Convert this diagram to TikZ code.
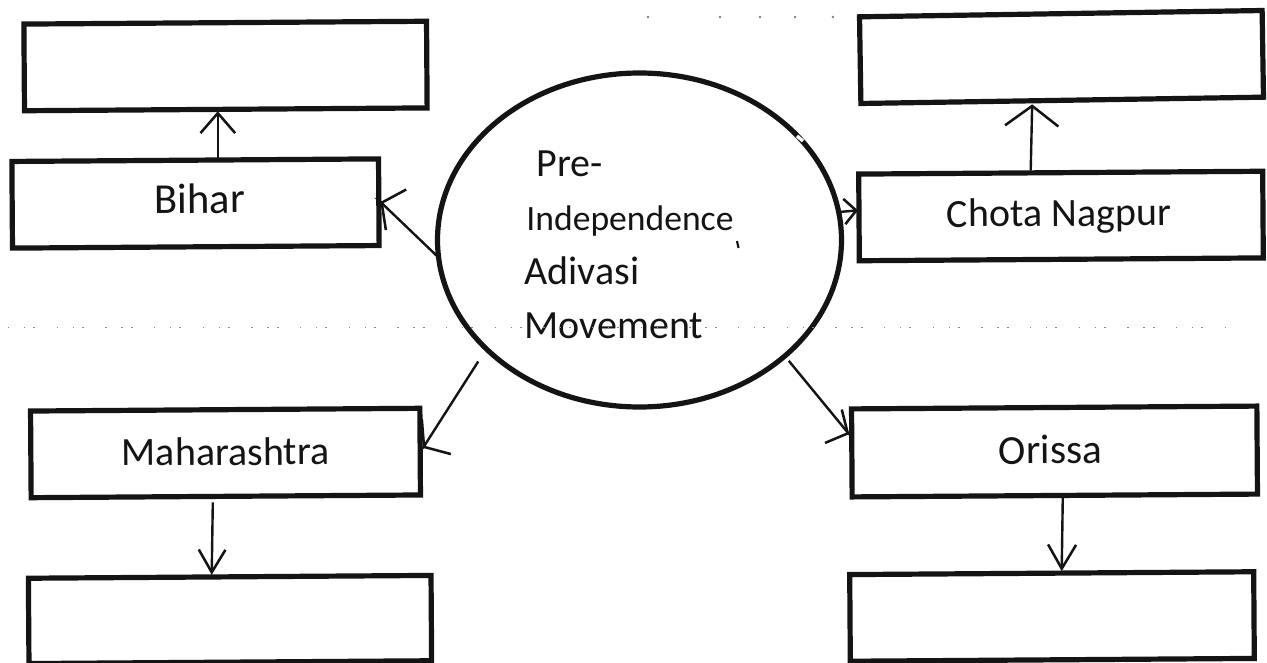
\documentclass[tikz,border=0pt]{standalone}
\usepackage{fontspec}
\setmainfont{Carlito}
\usetikzlibrary{arrows.meta,shapes.geometric}
\definecolor{ink}{HTML}{141414}
\tikzset{
  x=0.75pt,y=-0.75pt,
  box/.style={draw=ink,line width=3.9pt,fill=white,rectangle,inner sep=0pt,outer sep=0pt,line join=miter,rotate=0.4,
    font=\fontsize{30pt}{34pt}\selectfont,text=ink,text height=18.4pt,text depth=0pt},
  hub/.style={draw=ink,line width=3.9pt,fill=white,ellipse,inner sep=0pt,outer sep=0pt,
    minimum width=303pt,minimum height=250.5pt,text=ink},
  conn/.style={draw=ink,line width=1.8pt},
  barbhead/.style n args={2}{-{Straight Barb[length=#1pt,width=#2pt,line width=1.9pt]}},
  scanline/.style={draw=black!45,line width=0.9pt,dash pattern=on 1pt off 11pt on 1pt off 6pt on 1.5pt off 16pt},
  speck/.style={fill=black!50,circle,inner sep=0pt,minimum size=2.2pt},
}
\begin{document}
\begin{tikzpicture}
\useasboundingbox (0,0) rectangle (1267,663);
\fill[white] (0,0) rectangle (1267,663);
% boxes
\node[box,minimum width=302pt,minimum height=65pt] (tl) at (225.5,66) {};
\node[box,minimum width=275pt,minimum height=65pt] (bihar) at (195.5,203.5) {\hspace*{6pt}\raisebox{2pt}{\fontsize{32pt}{34pt}\selectfont Bihar}};
\node[box,minimum width=292pt,minimum height=65pt] (mah) at (225.5,453) {Maharashtra};
\node[box,minimum width=302pt,minimum height=64pt] (bl) at (230,619.5) {};
\node[box,rotate=0.5,minimum width=302pt,minimum height=65pt] (tr) at (1061.5,57) {};
\node[box,minimum width=303pt,minimum height=65pt] (chota) at (1061,216) {\hspace*{-3pt}\raisebox{1.5pt}{Chota Nagpur}};
\node[box,minimum width=304pt,minimum height=66pt] (orissa) at (1054.5,451.5) {\hspace*{-6pt}{\fontsize{31pt}{34pt}\selectfont Orissa}};
\node[box,minimum width=303pt,minimum height=65pt] (br) at (1052,616.5) {};
% hub
\node[hub] (el) at (639.5,240) {\hspace*{-15.8pt}\fontsize{30pt}{40.5pt}\selectfont
  \raisebox{-10.9pt}[0pt][0pt]{\begin{tabular}{@{}l@{}}
    \hspace*{9pt}Pre-\\
    \hspace*{1.5pt}{\fontsize{26.7pt}{30pt}\selectfont Independence}\\
    Adivasi\\
    Movement
  \end{tabular}}};
% faint scanner marks
\draw[scanline] (8,327.5) -- (1232,327.5);
\foreach \sx/\sn in {648/a,720/b,760/c,795/d,833/e}
  \node[speck] (mark\sn) at (\sx,17) {};
% connectors
\draw[conn,barbhead={12}{34}] (el.185.6) -- ([shift={(2,0)}]bihar.east) -- ++(-0.5,-0.25);
\draw[conn,barbhead={12}{34}] ([shift={(-12,9)}]el.217.5) -- ([shift={(3,-4)}]mah.east) -- ++(-0.3,0.25);
\draw[conn,barbhead={12}{28}] ([shift={(5,4)}]el.-39) -- ([shift={(-3,-19)}]orissa.west) -- ++(0.4,0.2);
\draw[conn,barbhead={9}{19}] (el.8.4) -- ([shift={(-1,-7)}]chota.west);
\draw[conn,barbhead={15}{26}] (bihar.north -| tl.south) ++(-8,-2) -- ++(0,-47);
\draw[conn,barbhead={15}{40}] ([shift={(-30,-2)}]chota.north) -- ([shift={(-30,4)}]tr.south);
\draw[conn,barbhead={17}{20}] ([shift={(-13,6)}]mah.south) -- ([shift={(-18,-2)}]bl.north);
\draw[conn,barbhead={18}{21}] ([shift={(8,0)}]orissa.south) -- ([shift={(10,-2)}]br.north);
% nicks on the outline
\draw[white,line width=2.5pt] (797,136) -- (803,141);
\draw[ink,line width=1.6pt] (737,241) -- (738.5,248);
\end{tikzpicture}
\end{document}
